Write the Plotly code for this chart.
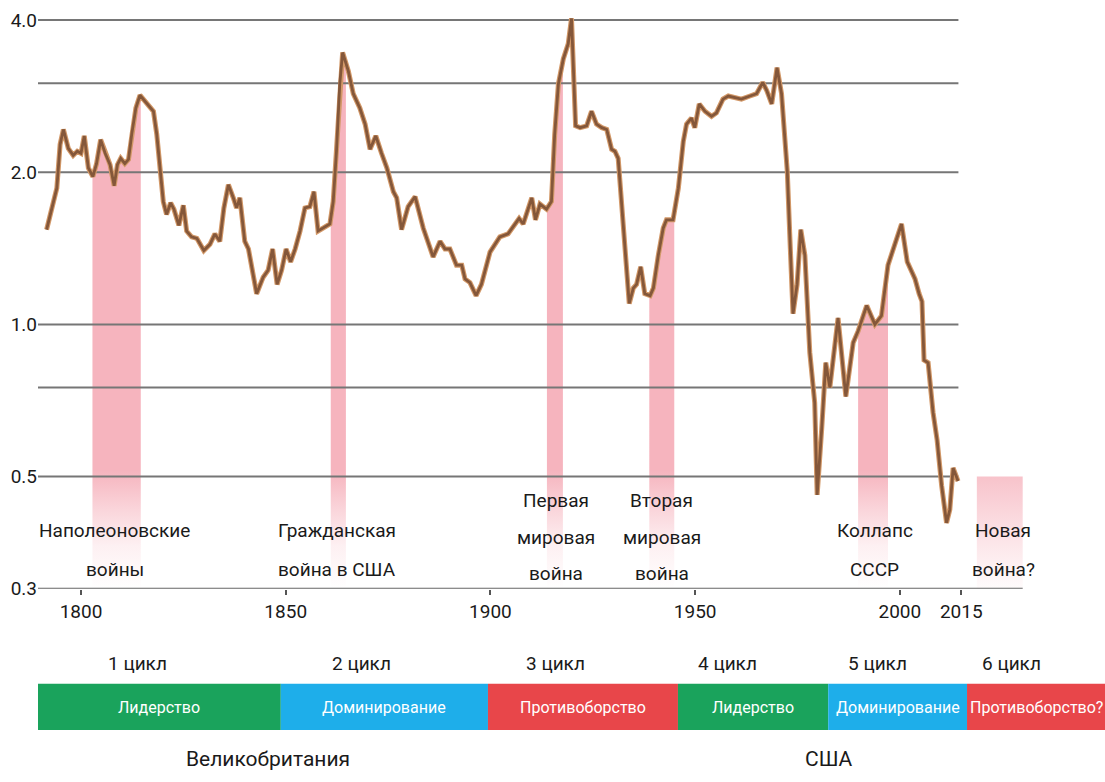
import numpy as np
import plotly.graph_objects as go

# ---------------- data ----------------
years = [1791.6, 1793.2, 1794.1, 1794.9, 1795.7, 1796.9, 1798.1, 1799.1, 1800.0, 1800.8,
         1801.8, 1802.9, 1803.8, 1804.8, 1805.9, 1807.1, 1808.1, 1808.9, 1809.7, 1810.7,
         1811.6, 1812.4, 1813.4, 1814.4, 1816.0, 1817.7, 1818.5, 1819.3, 1820.1, 1820.9,
         1821.9, 1822.7, 1823.9, 1825.0, 1825.8, 1827.0, 1828.3, 1830.0, 1831.5, 1832.7,
         1833.9, 1834.9, 1836.0, 1837.2, 1838.0, 1838.8, 1840.0, 1840.9, 1842.1, 1842.9,
         1844.5, 1845.7, 1846.8, 1847.9, 1849.0, 1850.1, 1851.2, 1852.3, 1853.5, 1854.7,
         1855.9, 1856.9, 1857.9, 1859.2, 1860.8, 1861.6, 1862.4, 1863.2, 1863.9, 1865.3,
         1866.5, 1868.1, 1869.4, 1870.6, 1872.0, 1873.4, 1874.7, 1876.3, 1877.1, 1878.3,
         1879.9, 1881.6, 1883.6, 1886.0, 1887.7, 1888.9, 1890.1, 1891.7, 1893.0, 1893.8,
         1895.0, 1896.5, 1897.8, 1899.9, 1901.1, 1902.3, 1904.3, 1906.0, 1907.0, 1908.0,
         1910.1, 1911.0, 1912.1, 1913.7, 1914.9, 1915.7, 1916.6, 1917.8, 1919.0, 1919.8,
         1920.2, 1920.8, 1921.9, 1923.5, 1924.7, 1925.9, 1927.2, 1928.4, 1929.6, 1930.4,
         1931.2, 1932.0, 1932.8, 1933.9, 1934.9, 1935.7, 1936.7, 1937.7, 1939.0, 1939.8,
         1941.0, 1942.2, 1943.0, 1944.6, 1945.9, 1947.1, 1947.9, 1949.1, 1949.9, 1951.0,
         1952.4, 1954.0, 1955.2, 1956.8, 1958.1, 1960.1, 1961.3, 1963.4, 1965.0, 1966.5,
         1967.5, 1968.7, 1970.0, 1971.1, 1971.9, 1972.5, 1973.1, 1973.9, 1974.9, 1975.8,
         1976.8, 1978.0, 1979.2, 1979.8, 1980.9, 1981.9, 1982.9, 1984.9, 1986.8, 1988.6,
         1989.8, 1991.9, 1993.9, 1995.5, 1997.1, 1998.4, 2000.4, 2001.8, 2003.7, 2004.7,
         2005.4, 2005.9, 2006.9, 2008.1, 2009.1, 2010.2, 2011.4, 2012.2, 2013.0, 2013.8,
         2014.2]
values = [1.54, 1.73, 1.86, 2.27, 2.43, 2.23, 2.16, 2.20, 2.18, 2.36,
          2.04, 1.96, 2.08, 2.32, 2.18, 2.07, 1.88, 2.07, 2.13, 2.08,
          2.12, 2.38, 2.68, 2.84, 2.74, 2.64, 2.38, 2.07, 1.75, 1.65,
          1.74, 1.69, 1.57, 1.72, 1.53, 1.49, 1.48, 1.40, 1.44, 1.51,
          1.46, 1.70, 1.89, 1.78, 1.70, 1.78, 1.46, 1.41, 1.25, 1.15,
          1.24, 1.28, 1.41, 1.20, 1.28, 1.41, 1.33, 1.41, 1.53, 1.70,
          1.71, 1.83, 1.53, 1.55, 1.58, 1.75, 2.20, 2.99, 3.45, 3.17,
          2.86, 2.68, 2.49, 2.22, 2.36, 2.18, 2.04, 1.83, 1.78, 1.54,
          1.71, 1.79, 1.55, 1.36, 1.46, 1.41, 1.41, 1.31, 1.31, 1.23,
          1.21, 1.14, 1.20, 1.39, 1.44, 1.49, 1.51, 1.58, 1.62, 1.58,
          1.78, 1.61, 1.73, 1.69, 1.75, 2.38, 2.99, 3.35, 3.59, 4.03,
          3.22, 2.47, 2.45, 2.47, 2.64, 2.49, 2.45, 2.43, 2.22, 2.20,
          2.13, 1.75, 1.39, 1.10, 1.18, 1.20, 1.30, 1.15, 1.14, 1.18,
          1.37, 1.55, 1.61, 1.61, 1.86, 2.30, 2.49, 2.56, 2.45, 2.73,
          2.64, 2.58, 2.62, 2.79, 2.83, 2.81, 2.79, 2.83, 2.86, 3.01,
          2.90, 2.73, 3.22, 2.86, 2.38, 2.01, 1.51, 1.05, 1.20, 1.54,
          1.37, 0.88, 0.70, 0.46, 0.62, 0.84, 0.75, 1.03, 0.72, 0.92,
          0.97, 1.09, 1.00, 1.04, 1.31, 1.41, 1.58, 1.33, 1.23, 1.15,
          1.11, 0.85, 0.84, 0.67, 0.59, 0.48, 0.405, 0.43, 0.52, 0.50,
          0.49]

war_start = [1802.8, 1861.0, 1913.8, 1938.8, 1989.8]
war_end = [1814.6, 1864.7, 1917.7, 1944.9, 1997.1]
war_labels = [["Наполеоновские", "войны"],
              ["Гражданская", "война в США"],
              ["Первая", "мировая", "война"],
              ["Вторая", "мировая", "война"],
              ["Коллапс", "СССР"]]
war_label_x = [1808.3, 1862.5, 1916.0, 1941.9, 1993.9]

new_war_start, new_war_end, new_war_top = 2018.8, 2030.0, 0.5
new_war_label = ["Новая", "война?"]
new_war_label_x = 2025.2

y_tickvals = [0.3, 0.5, 1.0, 2.0, 4.0]
y_ticktext = ["0.3", "0.5", "1.0", "2.0", "4.0"]
grid_values = [0.5, 0.75, 1.0, 2.0, 3.0, 4.0]
y_base = 0.3
x_tickvals = [1800, 1850, 1900, 1950, 2000, 2015]
x_ticktext = ["1800", "1850", "1900", "1950", "2000", "2015"]
grid_x_end = 2014.3
axis_x_end = 2030.0

cycle_labels = ["1 цикл", "2 цикл", "3 цикл", "4 цикл", "5 цикл", "6 цикл"]
cycle_label_x = [1813.7, 1868.6, 1916.0, 1958.0, 1994.6, 2027.3]
phase_names = ["Лидерство", "Доминирование", "Противоборство",
               "Лидерство", "Доминирование", "Противоборство?"]
phase_bounds = [1789.5, 1848.8, 1899.4, 1945.8, 1982.5, 2016.4, 2050.1]
phase_colors = ["#1aa35c", "#1eaeea", "#e8464a", "#1aa35c", "#1eaeea", "#e8464a"]
countries = ["Великобритания", "США"]
country_x = [1845.7, 1982.7]

# ---------------- layout constants ----------------
W = 1105
REF_H = 782          # height of the target picture
FIG_H = 795          # page height that the photograph maps onto REF_H rows
X_RANGE = [1789.5, 2050.1]
PX_PER_DECADE = 504.9
Y_BOTTOM_PX, Y_TOP_PX = 588, 4   # picture rows of the y-axis ends
FONT = "Roboto, sans-serif"
PINK = (246, 180, 190)
TEXT = "#1a1a1a"


def paper_y(py):
    return 1 - py / REF_H


def pink(a):
    return "rgba(%d,%d,%d,%.3f)" % (PINK[0], PINK[1], PINK[2], a)


fig = go.Figure()

# war shading (pink, fading downwards)
lv = np.log10(values)
fade = [(0.3, 0.0), (0.365, 0.2), (0.428, 0.55), (0.514, 1.0)]
for s, e in zip(war_start, war_end):
    inside = [(x, v) for x, v in zip(years, values) if s < x < e]
    vs = 10 ** np.interp(s, years, lv)
    ve = 10 ** np.interp(e, years, lv)
    xs = [s] + [p[0] for p in inside] + [e, e, s]
    ys = [vs] + [p[1] for p in inside] + [ve, y_base, y_base]
    vmax = max(ys)
    span = np.log10(vmax) - np.log10(y_base)
    cs = []
    for v, a in fade:
        f = (np.log10(v) - np.log10(y_base)) / span
        cs.append([min(max(f, 0), 1), pink(a)])
    cs.append([1.0, pink(1.0)])
    fig.add_trace(go.Scatter(
        x=xs, y=ys, mode="lines", fill="toself", line=dict(width=0),
        fillcolor=pink(0.9),
        fillgradient=dict(type="vertical", colorscale=cs),
        hoverinfo="skip", showlegend=False))

# "new war?" box
fig.add_trace(go.Scatter(
    x=[new_war_start, new_war_end, new_war_end, new_war_start, new_war_start],
    y=[y_base, y_base, new_war_top, new_war_top, y_base],
    mode="lines", fill="toself", line=dict(width=0), fillcolor=pink(0.5),
    fillgradient=dict(type="vertical",
                      colorscale=[[0, pink(0.05)], [0.5, pink(0.4)], [1, pink(0.8)]]),
    hoverinfo="skip", showlegend=False))

# gridlines (stop at 2015) and baseline (to 2030)
for g in grid_values:
    fig.add_trace(go.Scatter(x=[X_RANGE[0], grid_x_end], y=[g, g], mode="lines",
                             line=dict(color="#767676", width=2),
                             hoverinfo="skip", showlegend=False))
fig.add_trace(go.Scatter(x=[X_RANGE[0], axis_x_end], y=[y_base, y_base], mode="lines",
                         line=dict(color="#666666", width=2),
                         hoverinfo="skip", showlegend=False))

# main line: light halo + brown core
fig.add_trace(go.Scatter(x=years, y=values, mode="lines",
                         line=dict(color="#d29868", width=5),
                         hoverinfo="skip", showlegend=False))
fig.add_trace(go.Scatter(x=years, y=values, mode="lines",
                         line=dict(color="#84573a", width=2.8),
                         showlegend=False))

annotations = []
shapes = []

# war labels
for lines, x in zip(war_labels + [new_war_label], war_label_x + [new_war_label_x]):
    if len(lines) == 3:
        pys = [500, 537, 573]
    else:
        pys = [530, 569]
    for t, py in zip(lines, pys):
        annotations.append(dict(x=x, y=paper_y(py), xref="x", yref="paper", text=t,
                                showarrow=False, xanchor="center", yanchor="middle",
                                font=dict(family=FONT, size=19, color=TEXT)))

# cycle labels
for t, x in zip(cycle_labels, cycle_label_x):
    annotations.append(dict(x=x, y=paper_y(663), xref="x", yref="paper", text=t,
                            showarrow=False, xanchor="center", yanchor="middle",
                            font=dict(family=FONT, size=19, color=TEXT)))

# phase band
for i, name in enumerate(phase_names):
    x0, x1 = phase_bounds[i], phase_bounds[i + 1]
    shapes.append(dict(type="rect", xref="x", yref="paper", x0=x0, x1=x1,
                       y0=paper_y(729), y1=paper_y(683),
                       fillcolor=phase_colors[i], line=dict(width=0), layer="above"))
    annotations.append(dict(x=(x0 + x1) / 2, y=paper_y(707), xref="x", yref="paper",
                            text=name, showarrow=False, xanchor="center", yanchor="middle",
                            font=dict(family=FONT, size=16, color="white")))

# countries
for t, x in zip(countries, country_x):
    annotations.append(dict(x=x, y=paper_y(758), xref="x", yref="paper", text=t,
                            showarrow=False, xanchor="center", yanchor="middle",
                            font=dict(family=FONT, size=21, color=TEXT)))

y0 = np.log10(y_base)
y1 = y0 + (Y_BOTTOM_PX - Y_TOP_PX) / PX_PER_DECADE

fig.update_layout(
    width=W, height=FIG_H,
    margin=dict(l=38, r=0, t=0, b=0),
    paper_bgcolor="white", plot_bgcolor="white",
    showlegend=False,
    font=dict(family=FONT, color=TEXT),
    xaxis=dict(range=X_RANGE, tickvals=x_tickvals, ticktext=x_ticktext,
               ticks="outside", ticklen=5, tickwidth=1.5, tickcolor="#555",
               showgrid=False, zeroline=False, showline=False,
               tickfont=dict(family=FONT, size=19, color=TEXT), fixedrange=True),
    yaxis=dict(type="log", range=[y0, y1],
               domain=[paper_y(Y_BOTTOM_PX), paper_y(Y_TOP_PX)],
               tickvals=y_tickvals, ticktext=y_ticktext, ticks="",
               showgrid=False, zeroline=False, showline=False,
               tickfont=dict(family=FONT, size=19, color=TEXT), fixedrange=True),
    annotations=annotations,
    shapes=shapes,
)

# remove the browser's default 8px page margin so the figure starts at the corner
fig.write_html("out.html",
               config={"displayModeBar": False},
               post_script="document.body.style.margin='0';"
                           "document.body.style.overflow='hidden';")
